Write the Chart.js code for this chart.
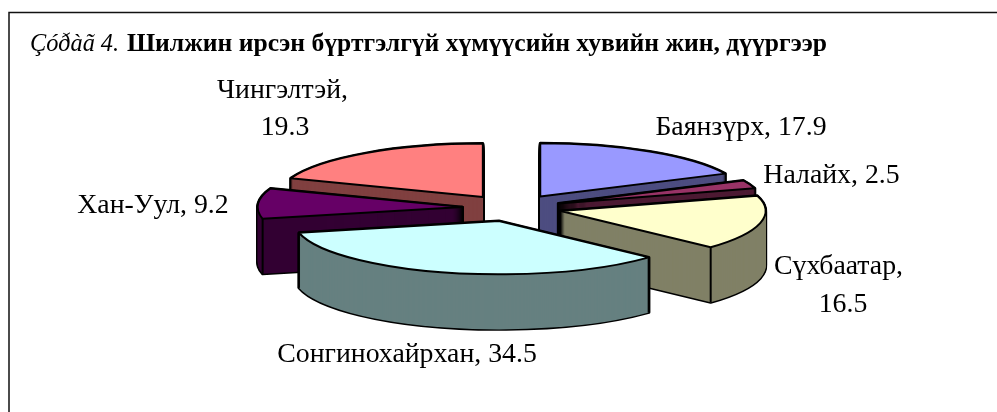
<!DOCTYPE html>
<html><head><meta charset="utf-8">
<style>html,body{margin:0;padding:0;background:#fff}#w{position:relative;width:997px;height:412px;overflow:hidden}canvas{display:block}</style>
<script src="https://cdn.jsdelivr.net/npm/chart.js@4"></script>
</head><body><div id="w"><canvas id="c" width="997" height="412"></canvas></div>
<script>
const categories = ['Баянзүрх','Налайх','Сүхбаатар','Сонгинохайрхан','Хан-Уул','Чингэлтэй'];
const shares = [17.9,2.5,16.5,34.5,9.2,19.3];
const topColors = ['#9999ff','#993366','#ffffcc','#ccffff','#660066','#ff8080'];
const sideColors = ['#4d4d80','#4d1a33','#808066','#668080','#330033','#804040'];
const paintOrder = [5,0,1,4,2,3];
const titlePrefix = 'Çóðàã 4.';
const titleText = 'Шилжин ирсэн бүртгэлгүй хүмүүсийн хувийн жин, дүүргээр';
const labelLines = [
  [['Баянзүрх, 17.9',741,135]],
  [['Налайх, 2.5',831.5,183]],
  [['Сүхбаатар,',838.5,274],['16.5',843,312]],
  [['Сонгинохайрхан, 34.5',407,362]],
  [['Хан-Уул, 9.2',153,213]],
  [['Чингэлтэй,',282.5,98],['19.3',285,135]]
];
const explodeBy = [52,49,49.5,52,50,52];
const tilt = 0.26, depth = 55;
const serif = '"Liberation Serif","Times New Roman",serif';

function fillOpts(color){return {backgroundColor:color,borderColor:'#000',borderWidth:0,borderAlign:'center',borderJoinStyle:'round',borderRadius:0,spacing:0,offset:0,circular:true,borderDash:[],borderDashOffset:0};}
function project(ctx,arc,d,i){
  const mid=(arc.startAngle+arc.endAngle)/2;
  ctx.translate(arc.x,arc.y+d);
  ctx.scale(1,tilt);
  ctx.translate(-arc.x,-arc.y);
  ctx.translate(Math.cos(mid)*explodeBy[i],Math.sin(mid)*explodeBy[i]);
}
function outline(ctx,arc,d,lw,i){
  ctx.save();project(ctx,arc,d,i);
  ctx.beginPath();ctx.moveTo(arc.x,arc.y);
  ctx.arc(arc.x,arc.y,arc.outerRadius,arc.startAngle,arc.endAngle);
  ctx.closePath();ctx.restore();
  ctx.lineWidth=lw;ctx.strokeStyle='#000';ctx.lineJoin='round';ctx.stroke();
}
function face(ctx,arc,d,color,i){
  const keep=arc.options;arc.options=fillOpts(color);
  ctx.save();project(ctx,arc,d,i);arc.draw(ctx);ctx.restore();
  arc.options=keep;
}
const pie3d={id:'pie3d',
  beforeDatasetsDraw(chart){
    const ctx=chart.ctx,arcs=chart.getDatasetMeta(0).data;
    paintOrder.forEach(i=>{
      const arc=arcs[i];
      for(let d=depth;d>=0;d--)outline(ctx,arc,d,3,i);
      for(let d=depth;d>=0;d--)face(ctx,arc,d,sideColors[i],i);
      [arc.startAngle,arc.endAngle].forEach(a=>{
        if(Math.sin(a)>0.02){
          ctx.save();project(ctx,arc,0,i);
          const x=arc.x+Math.cos(a)*arc.outerRadius,y=arc.y+Math.sin(a)*arc.outerRadius;
          const m=ctx.getTransform();ctx.restore();
          const p=m.transformPoint(new DOMPoint(x,y));
          ctx.beginPath();ctx.moveTo(p.x,p.y);ctx.lineTo(p.x,p.y+depth);
          ctx.lineWidth=2;ctx.strokeStyle='#000';ctx.stroke();
        }
      });
      face(ctx,arc,0,topColors[i],i);
      outline(ctx,arc,0,2,i);
    });
    return false;
  },
  afterDraw(chart){
    const ctx=chart.ctx;ctx.save();
    ctx.fillStyle='#000';ctx.textBaseline='alphabetic';
    ctx.textAlign='center';ctx.font='27.8px '+serif;
    labelLines.forEach(ls=>ls.forEach(([t,x,y])=>ctx.fillText(t,x,y)));
    ctx.textAlign='left';
    ctx.font='italic 24.3px '+serif;ctx.fillText(titlePrefix,30,51);
    ctx.font='bold 25.6px '+serif;ctx.fillText(titleText,127,51);
    ctx.restore();
  }
};
const framePlugin={id:'frame',beforeDraw(chart){
  const c=chart.ctx;c.save();c.fillStyle='#fff';c.fillRect(0,0,997,412);
  c.strokeStyle='#111';c.lineWidth=1.5;
  c.beginPath();c.moveTo(9,412);c.lineTo(9,12.5);c.lineTo(997,12.5);c.stroke();c.restore();
}};
new Chart(document.getElementById('c'),{
  type:'pie',
  data:{labels:categories,datasets:[{data:shares,backgroundColor:topColors,borderWidth:0,radius:205}]},
  options:{responsive:false,animation:false,devicePixelRatio:1,
    layout:{padding:{left:28,top:4}},
    plugins:{legend:{display:false},tooltip:{enabled:false},title:{display:false}}},
  plugins:[framePlugin,pie3d]
});
</script></body></html>
